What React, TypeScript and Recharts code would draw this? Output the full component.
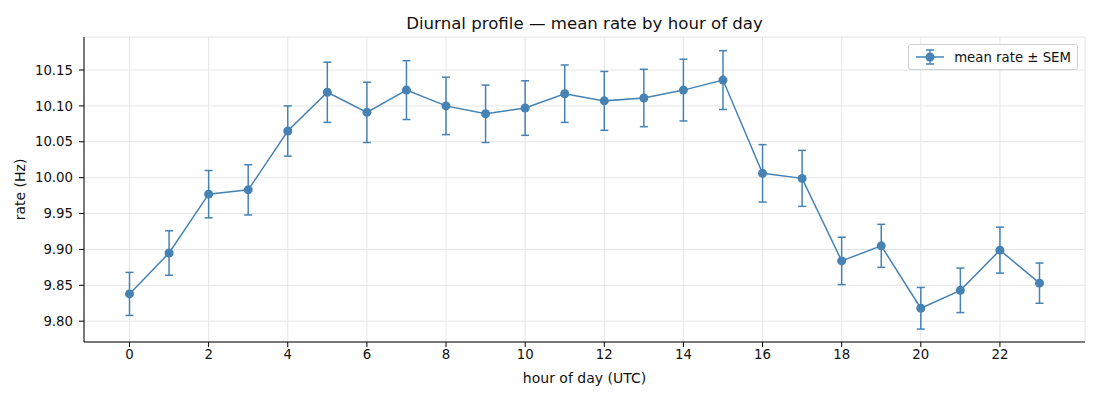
import {
  CartesianGrid,
  ErrorBar,
  Label,
  Line,
  LineChart,
  XAxis,
  YAxis,
} from "recharts";

const THEME = {
  line: "#4682b4",
  grid: "#e6e6e6",
  axis: "#000000",
  text: "#111111",
  font: "DejaVu Sans, sans-serif",
};

const hours = [0, 1, 2, 3, 4, 5, 6, 7, 8, 9, 10, 11, 12, 13, 14, 15, 16, 17, 18, 19, 20, 21, 22, 23];
const meanRate = [
  9.838, 9.895, 9.977, 9.983, 10.065, 10.119, 10.091, 10.122, 10.1, 10.089, 10.097, 10.117,
  10.107, 10.111, 10.122, 10.136, 10.006, 9.999, 9.884, 9.905, 9.818, 9.843, 9.899, 9.853,
];
const sem = [
  0.03, 0.031, 0.033, 0.035, 0.035, 0.042, 0.042, 0.041, 0.04, 0.04, 0.038, 0.04,
  0.041, 0.04, 0.043, 0.041, 0.04, 0.039, 0.033, 0.03, 0.029, 0.031, 0.032, 0.028,
];
const xTicks = [0, 2, 4, 6, 8, 10, 12, 14, 16, 18, 20, 22];
const yTicks = [9.8, 9.85, 9.9, 9.95, 10.0, 10.05, 10.1, 10.15];

const data = hours.map((h, i) => ({ hour: h, rate: meanRate[i], sem: sem[i] }));

function LegendBox() {
  return (
    <div
      style={{
        position: "absolute",
        top: 44,
        right: 22,
        display: "flex",
        alignItems: "center",
        boxSizing: "border-box",
        border: "1px solid #d0d0d0",
        borderRadius: 3,
        background: "rgba(255,255,255,0.8)",
        padding: "0 6px",
        height: 26,
        fontFamily: THEME.font,
        fontSize: 13.3,
        color: THEME.text,
      }}
    >
      <svg width={30} height={20} style={{ marginRight: 9 }}>
        <line x1={1} y1={10} x2={29} y2={10} stroke={THEME.line} strokeWidth={1.5} />
        <line x1={15} y1={3} x2={15} y2={17} stroke={THEME.line} strokeWidth={1.5} />
        <line x1={11} y1={3} x2={19} y2={3} stroke={THEME.line} strokeWidth={1.5} />
        <line x1={11} y1={17} x2={19} y2={17} stroke={THEME.line} strokeWidth={1.5} />
        <circle cx={15} cy={10} r={4.5} fill={THEME.line} />
      </svg>
      <span>mean rate ± SEM</span>
    </div>
  );
}

export default function App() {
  return (
    <div style={{ position: "absolute", left: 0, top: 0, width: 1100, height: 400, background: "#fff" }}>
      <div
        style={{
          position: "absolute",
          top: 14,
          left: 84,
          width: 1001,
          textAlign: "center",
          fontFamily: THEME.font,
          fontSize: 16.6,
          color: THEME.text,
        }}
      >
        Diurnal profile — mean rate by hour of day
      </div>
      <LineChart
        width={1100}
        height={400}
        data={data}
        margin={{ top: 37, right: 15, left: 0, bottom: 8 }}
      >
        <CartesianGrid stroke={THEME.grid} strokeWidth={1} />
        <XAxis
          dataKey="hour"
          type="number"
          domain={[-1.15, 24.15]}
          ticks={xTicks}
          allowDataOverflow
          height={50}
          stroke={THEME.axis}
          tickSize={5}
          tickMargin={3}
          tick={{ fill: THEME.text, fontSize: 13.3, fontFamily: THEME.font }}
        >
          <Label
            value="hour of day (UTC)"
            position="insideBottom"
            offset={9}
            style={{ fill: THEME.text, fontSize: 14, fontFamily: THEME.font }}
          />
        </XAxis>
        <YAxis
          type="number"
          domain={[9.771, 10.196]}
          ticks={yTicks}
          allowDataOverflow
          width={84}
          stroke={THEME.axis}
          tickSize={5}
          tickMargin={6}
          tickFormatter={(v: number) => v.toFixed(2)}
          tick={{ fill: THEME.text, fontSize: 13.3, fontFamily: THEME.font }}
        >
          <Label
            value="rate (Hz)"
            angle={-90}
            position="insideLeft"
            offset={20}
            style={{ fill: THEME.text, fontSize: 14, fontFamily: THEME.font, textAnchor: "middle" }}
          />
        </YAxis>
        <Line
          dataKey="rate"
          stroke={THEME.line}
          strokeWidth={1.5}
          dot={{ r: 4.5, fill: THEME.line, stroke: THEME.line, strokeWidth: 0 }}
          activeDot={false}
          isAnimationActive={false}
        >
          <ErrorBar
            dataKey="sem"
            direction="y"
            width={4}
            stroke={THEME.line}
            strokeWidth={1.5}
            isAnimationActive={false}
          />
        </Line>
      </LineChart>
      <LegendBox />
    </div>
  );
}
